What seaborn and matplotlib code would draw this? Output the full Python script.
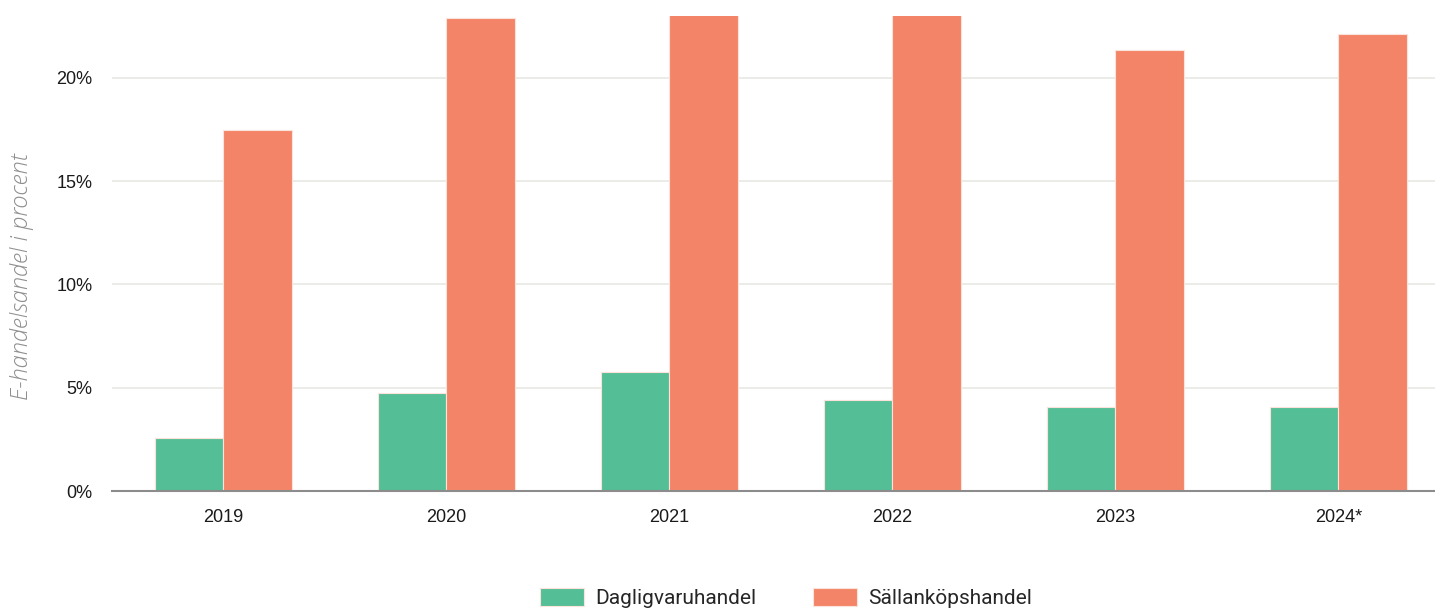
import pandas as pd
import numpy as np
import matplotlib
matplotlib.use('Agg')
import matplotlib.pyplot as plt
import seaborn as sns

# Data (2021 and 2022 orange bars run past the top of the view)
years = ['2019', '2020', '2021', '2022', '2023', '2024*']
dagligvaru = [2.57, 4.75, 5.76, 4.41, 4.07, 4.07]
sallankop = [17.48, 22.9, 24.5, 24.0, 21.36, 22.13]
series = ['Dagligvaruhandel', 'Sällanköpshandel']
colors = ['#54BE96', '#F38467']

df = pd.DataFrame({
    'year': years * 2,
    'share': dagligvaru + sallankop,
    'type': [series[0]] * len(years) + [series[1]] * len(years),
})

sns.set_style('white')
plt.rcParams['font.family'] = ['Liberation Sans', 'DejaVu Sans']

fig = plt.figure(figsize=(14.35, 6.1), dpi=100)
# axes runs past the right edge like in the cropped original
ax = fig.add_axes([112 / 1435, 119 / 610, 1338 / 1435, 475 / 610])

sns.barplot(data=df, x='year', y='share', hue='type', palette=colors,
            width=0.61, gap=0, edgecolor='#FBE3DC', linewidth=0.8,
            saturation=1, ax=ax, legend=True)

ax.set_ylim(0, 23.0)
ax.set_xlim(-0.5, 5.5)
ax.set_yticks([0, 5, 10, 15, 20])
ax.set_yticklabels(['0%', '5%', '10%', '15%', '20%'])
ax.yaxis.grid(True, color='#E8E8E4', linewidth=1.2)
ax.set_axisbelow(True)
for s in ['top', 'right', 'left']:
    ax.spines[s].set_visible(False)
ax.spines['bottom'].set_color('#8C8C8C')
ax.spines['bottom'].set_linewidth(1.5)
ax.tick_params(axis='both', length=0, labelsize=13, colors='#1A1A1A')
ax.tick_params(axis='x', pad=13)
ax.tick_params(axis='y', pad=14)
ax.set_xlabel('')
ax.set_ylabel('')

fig.text(22 / 1435, 1 - 277 / 610, 'E-handelsandel i procent', rotation=90,
         ha='center', va='center', fontsize=17, style='italic',
         color='#8E8E8E', family=['Open Sans', 'DejaVu Sans'], fontweight='light')

handles, labels = ax.get_legend_handles_labels()
ax.legend_.remove()
fig.legend(handles, labels, loc='center', bbox_to_anchor=(786 / 1435, 1 - 598 / 610),
           ncol=2, frameon=False, prop={'family': 'Roboto', 'size': 15},
           handlelength=2.1, handleheight=1.0, columnspacing=2.7, handletextpad=0.55)

fig.savefig('out.png', dpi=100)
